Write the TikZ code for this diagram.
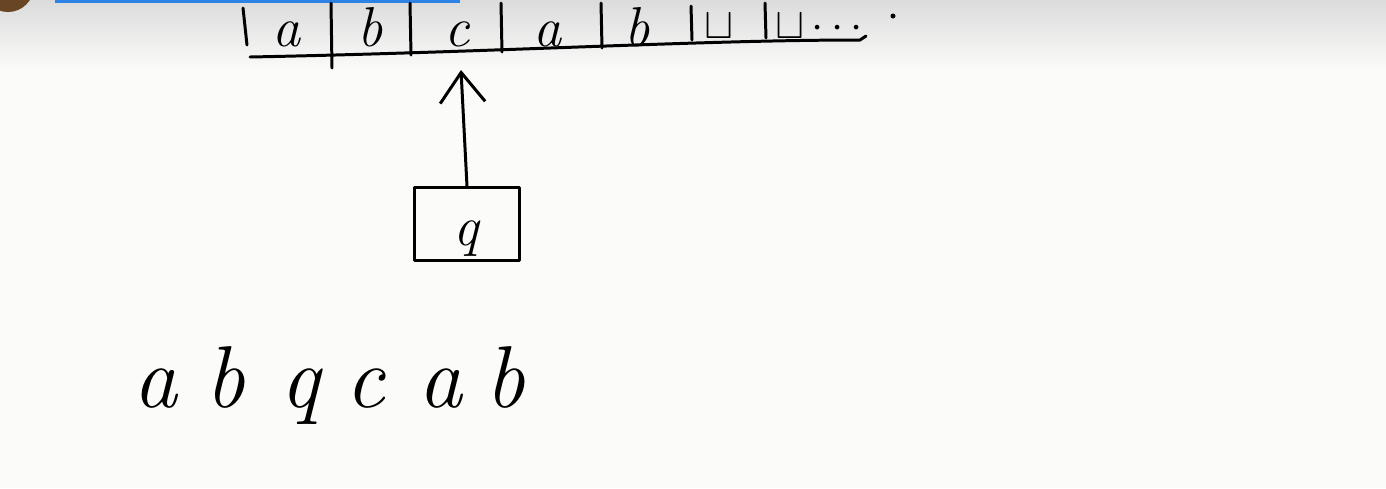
\documentclass[tikz,border=0pt]{standalone}
\usepackage{fontspec}
\usetikzlibrary{arrows.meta}
\definecolor{barblue}{RGB}{45,130,230}
\definecolor{paper}{RGB}{251,251,250}
\tikzset{
  pen/.style={line width=1.7pt, line cap=round, line join=round},
  sym/.style={font=\fontsize{32}{34}\selectfont\itshape, inner sep=0pt, anchor=base},
  blank/.style={font=\fontsize{24}{26}\selectfont, inner sep=0pt, anchor=base west},
  word/.style={font=\fontsize{50}{54}\selectfont\itshape, inner sep=0pt, anchor=base},
  headbox/.style={pen, draw, minimum width=2.1cm, minimum height=1.45cm, inner sep=0pt}
}
\begin{document}
\begin{tikzpicture}[x=0.02cm,y=-0.02cm]
  \useasboundingbox (0,0) rectangle (1386,488);
  \clip (0,0) rectangle (1386,488);
  \fill[paper] (0,0) rectangle (1386,488);
  \shade[top color=black!14, bottom color=paper] (0,0) rectangle (1386,70);
  \fill[barblue] (55,0) rectangle (460,3);
  \fill[brown!55!black] (8,-14) circle (26);
  % tape
  \draw[pen] (243,8) -- (247,45);
  \draw[pen] (250,57) .. controls (500,52) and (700,40) .. (860,40) -- (866,36);
  \foreach \x/\a/\b in {331/3/68, 410/3/55, 501/3/52, 601/3/48, 691/6/40, 765/3/38}
    \draw[pen] (\x,\a) -- (\x+1,\b);
  \foreach \s/\x [count=\i] in {a/287, b/370, c/457, a/548, b/637}
    \node[sym] (c\i) at (\x,46) {\s};
  \node[blank] (c6) at (704,38) {$\sqcup$};
  \node[blank] (c7) at (775,38) {$\sqcup\cdots$};
  \fill (893,16) circle (2.5);
  % head
  \node[headbox] (head) at (467,224) {};
  \node[sym] (state) at (466,245) {q};
  \coordinate (tip) at (461,70);
  \draw[pen, -{Straight Barb[length=0.6cm, width=0.9cm]}] (head.north) -- (tip);
  % configuration
  \foreach \s/\x [count=\i] in {a/155, b/225, q/300, c/365, a/440, b/505}
    \node[word] (w\i) at (\x,407) {\s};
\end{tikzpicture}
\end{document}
